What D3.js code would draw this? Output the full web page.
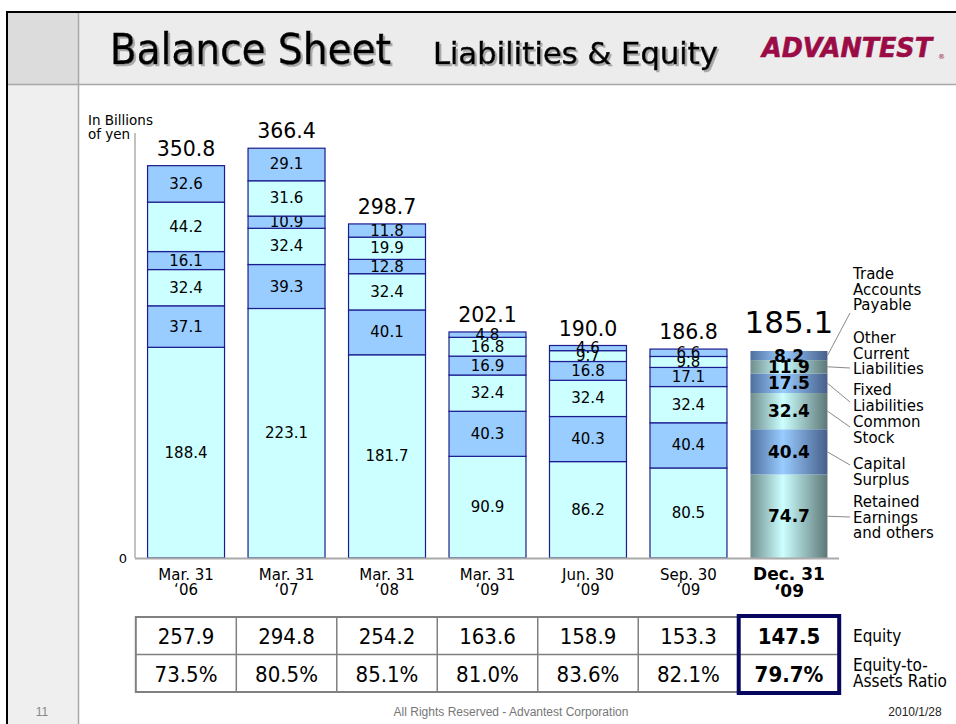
<!DOCTYPE html>
<html>
<head>
<meta charset="utf-8">
<script src="https://cdn.jsdelivr.net/npm/d3@7"></script>
<style>
  html, body { margin: 0; padding: 0; background: #ffffff; }
  svg { display: block; }
</style>
</head>
<body>
<svg id="chart" width="956" height="724"></svg>
<script>
// ---------------- DATA ----------------
const categoriesLine1 = ["Mar. 31", "Mar. 31", "Mar. 31", "Mar. 31", "Jun. 30", "Sep. 30", "Dec. 31"];
const categoriesLine2 = ["\u201806", "\u201807", "\u201808", "\u201809", "\u201809", "\u201809", "\u201809"];
const seriesKeys = ["retained", "capital", "common", "fixed", "otherCurrent", "tradePayable"];
const retainedEarnings = [188.4, 223.1, 181.7, 90.9, 86.2, 80.5, 74.7];
const capitalSurplus   = [37.1, 39.3, 40.1, 40.3, 40.3, 40.4, 40.4];
const commonStock      = [32.4, 32.4, 32.4, 32.4, 32.4, 32.4, 32.4];
const fixedLiabilities = [16.1, 10.9, 12.8, 16.9, 16.8, 17.1, 17.5];
const otherCurrentLiab = [44.2, 31.6, 19.9, 16.8, 9.7, 9.8, 11.9];
const tradePayable     = [32.6, 29.1, 11.8, 4.8, 4.6, 6.6, 8.2];
const totals           = [350.8, 366.4, 298.7, 202.1, 190.0, 186.8, 185.1];
const equityValues     = ["257.9", "294.8", "254.2", "163.6", "158.9", "153.3", "147.5"];
const equityRatios     = ["73.5%", "80.5%", "85.1%", "81.0%", "83.6%", "82.1%", "79.7%"];
const legendLabels = [
  ["Trade", "Accounts", "Payable"],
  ["Other", "Current", "Liabilities"],
  ["Fixed", "Liabilities"],
  ["Common", "Stock"],
  ["Capital", "Surplus"],
  ["Retained", "Earnings", "and others"]
];
const tableRowLabels = [["Equity"], ["Equity-to-", "Assets Ratio"]];
const yTicks = [0];

// ---------------- BUILD ----------------
const rows = categoriesLine1.map((c, i) => ({
  id: i,
  retained: retainedEarnings[i],
  capital: capitalSurplus[i],
  common: commonStock[i],
  fixed: fixedLiabilities[i],
  otherCurrent: otherCurrentLiab[i],
  tradePayable: tradePayable[i]
}));
const lastIdx = rows.length - 1;

const svg = d3.select("#chart");
const FONT = "'DejaVu Sans', Verdana, sans-serif";
const COND = "'DejaVu Sans Condensed', 'DejaVu Sans', sans-serif";
const defs = svg.append("defs");

// ---------- slide frame ----------
svg.append("rect").attr("x", 0).attr("y", 0).attr("width", 956).attr("height", 724).attr("fill", "#ffffff");
svg.append("rect").attr("x", 8).attr("y", 13).attr("width", 948).attr("height", 71).attr("fill", "#ececec");
svg.append("rect").attr("x", 8).attr("y", 84).attr("width", 70).attr("height", 640).attr("fill", "#efefef");
svg.append("rect").attr("x", 8).attr("y", 13).attr("width", 70).attr("height", 71).attr("fill", "#dcdcdc");
svg.append("line").attr("x1", 78.5).attr("x2", 78.5).attr("y1", 13).attr("y2", 724).attr("stroke", "#a8a8a8").attr("stroke-width", 1.5);
svg.append("line").attr("x1", 8).attr("x2", 956).attr("y1", 84.5).attr("y2", 84.5).attr("stroke", "#a8a8a8").attr("stroke-width", 1.5);
svg.append("line").attr("x1", 7).attr("x2", 956).attr("y1", 12).attr("y2", 12).attr("stroke", "#000").attr("stroke-width", 2);
svg.append("line").attr("x1", 7).attr("x2", 7).attr("y1", 11).attr("y2", 724).attr("stroke", "#000").attr("stroke-width", 2);

// ---------- title ----------
const shadow = defs.append("filter").attr("id", "tshadow").attr("x", "-5%").attr("y", "-20%").attr("width", "115%").attr("height", "150%");
shadow.append("feDropShadow").attr("dx", 2).attr("dy", 2).attr("stdDeviation", 0.6)
  .attr("flood-color", "#a0a0a0").attr("flood-opacity", 0.9);
function titleText(x, y, txt, size, len) {
  svg.append("text").attr("x", x).attr("y", y).text(txt)
    .attr("font-family", COND).attr("font-size", size).attr("fill", "#000")
    .attr("stroke", "#000").attr("stroke-width", 0.5)
    .attr("textLength", len).attr("lengthAdjust", "spacingAndGlyphs")
    .attr("filter", "url(#tshadow)");
}
titleText(110, 64, "Balance Sheet", 42, 281);
titleText(433, 64, "Liabilities & Equity", 31, 285);
svg.append("text").attr("x", 762).attr("y", 57).text("ADVANTEST")
  .attr("font-family", FONT).attr("font-weight", "bold").attr("font-style", "italic")
  .attr("font-size", 27).attr("fill", "#9b0c46").attr("stroke", "#9b0c46").attr("stroke-width", 0.6)
  .attr("textLength", 170).attr("lengthAdjust", "spacingAndGlyphs");
svg.append("text").attr("x", 938).attr("y", 59).text("\u00AE")
  .attr("font-family", FONT).attr("font-size", 7).attr("fill", "#9b0c46");

// ---------- scales ----------
const x = d3.scaleBand().domain(rows.map(d => d.id)).range([135, 840])
  .paddingInner(0.234).paddingOuter(0.125);
const y = d3.scaleLinear().domain([0, 380]).range([558, 133]);

const stack = d3.stack().keys(seriesKeys);
const stacked = stack(rows);
const fills = ["#ccffff", "#99ccff", "#ccffff", "#99ccff", "#ccffff", "#99ccff"];

// gradients for the highlighted (last) bar
function grad(id, edgeL, mid, edgeR) {
  const g = defs.append("linearGradient").attr("id", id).attr("x1", "0%").attr("x2", "100%").attr("y1", "0%").attr("y2", "0%");
  g.append("stop").attr("offset", "0%").attr("stop-color", edgeL);
  g.append("stop").attr("offset", "42%").attr("stop-color", mid);
  g.append("stop").attr("offset", "100%").attr("stop-color", edgeR);
}
grad("gCyan", "#708d8d", "#ccffff", "#5e7777");
grad("gBlue", "#4e6f9f", "#99ccff", "#465f8a");

// ---------- axes ----------
svg.append("line").attr("x1", 135).attr("x2", 135).attr("y1", y(380)).attr("y2", y(0))
  .attr("stroke", "#999").attr("stroke-width", 1.2);

const yAxis = d3.axisLeft(y).tickValues(yTicks).tickSize(0).tickPadding(6);
const gy = svg.append("g").attr("transform", "translate(133,0)").call(yAxis);
gy.select(".domain").remove();
gy.selectAll("text").attr("font-family", FONT).attr("font-size", 13).attr("fill", "#000");

svg.append("text").attr("x", 88).attr("y", 125).text("In Billions")
  .attr("font-family", FONT).attr("font-size", 13.5).attr("fill", "#000");
svg.append("text").attr("x", 88).attr("y", 139).text("of yen")
  .attr("font-family", FONT).attr("font-size", 13.5).attr("fill", "#000");

// ---------- bars ----------
const layers = svg.append("g").selectAll("g").data(stacked).join("g");
layers.each(function(layer, li) {
  const g = d3.select(this);
  g.selectAll("rect").data(layer).join("rect")
    .attr("x", d => x(d.data.id))
    .attr("width", x.bandwidth())
    .attr("y", d => y(d[1]))
    .attr("height", d => y(d[0]) - y(d[1]))
    .attr("fill", d => d.data.id === lastIdx ? (li % 2 === 0 ? "url(#gCyan)" : "url(#gBlue)") : fills[li])
    .attr("stroke", d => d.data.id === lastIdx ? "none" : "#1c1c8e")
    .attr("stroke-width", 1.2);
});

// baseline
svg.append("line").attr("x1", 135).attr("x2", 839).attr("y1", y(0) + 0.5).attr("y2", y(0) + 0.5)
  .attr("stroke", "#aaaaaa").attr("stroke-width", 2);

// segment labels
layers.each(function(layer) {
  d3.select(this).selectAll("text").data(layer).join("text")
    .attr("x", d => x(d.data.id) + x.bandwidth() / 2)
    .attr("y", d => y((d[0] + d[1]) / 2))
    .attr("text-anchor", "middle")
    .attr("dominant-baseline", "central")
    .attr("font-family", FONT)
    .attr("font-size", d => d.data.id === lastIdx ? 17 : 15)
    .attr("font-weight", d => d.data.id === lastIdx ? "bold" : "normal")
    .attr("fill", "#000")
    .text(d => (d[1] - d[0]).toFixed(1));
});

// totals
svg.append("g").selectAll("text").data(rows).join("text")
  .attr("x", d => x(d.id) + x.bandwidth() / 2)
  .attr("y", d => y(totals[d.id]) - (d.id === lastIdx ? 18 : 10))
  .attr("text-anchor", "middle")
  .attr("font-family", FONT)
  .attr("font-size", d => d.id === lastIdx ? 31 : 20.5)
  .attr("fill", "#000")
  .text(d => totals[d.id].toFixed(1));

// x labels
const xl = svg.append("g").selectAll("g").data(rows).join("g");
xl.append("text")
  .attr("x", d => x(d.id) + x.bandwidth() / 2).attr("y", 580)
  .attr("text-anchor", "middle").attr("font-family", FONT)
  .attr("font-size", d => d.id === lastIdx ? 17 : 15)
  .attr("font-weight", d => d.id === lastIdx ? "bold" : "normal")
  .text(d => categoriesLine1[d.id]);
xl.append("text")
  .attr("x", d => x(d.id) + x.bandwidth() / 2).attr("y", d => d.id === lastIdx ? 597 : 595)
  .attr("text-anchor", "middle").attr("font-family", FONT)
  .attr("font-size", d => d.id === lastIdx ? 17 : 15)
  .attr("font-weight", d => d.id === lastIdx ? "bold" : "normal")
  .text(d => categoriesLine2[d.id]);

// ---------- legend with leader lines ----------
const legendTop = [279, 343, 395, 427, 469, 507];
const leaderEnd = [313, 368, 402, 427, 465, 517];
const lastStack = stacked.map(s => s[lastIdx]).reverse(); // top to bottom
const barRight = x(lastIdx) + x.bandwidth();
legendLabels.forEach((lines, i) => {
  const seg = lastStack[i];
  svg.append("line")
    .attr("x1", barRight).attr("y1", y((seg[0] + seg[1]) / 2))
    .attr("x2", 850).attr("y2", leaderEnd[i])
    .attr("stroke", "#8a8a8a").attr("stroke-width", 1);
  lines.forEach((t, j) => {
    svg.append("text").attr("x", 853).attr("y", legendTop[i] + j * 15.5)
      .attr("font-family", FONT).attr("font-size", 15).attr("fill", "#000").text(t);
  });
});

// ---------- table ----------
const tableTop = 617, rowH = 37.5;
const colLeft = d => x(d) - x.step() * x.paddingInner() / 2;
const colW = x.step();
const tableRight = colLeft(lastIdx) + colW;
const tg = svg.append("g");
tg.append("rect").attr("x", colLeft(0)).attr("y", tableTop)
  .attr("width", tableRight - colLeft(0)).attr("height", rowH * 2)
  .attr("fill", "#fff").attr("stroke", "#808080").attr("stroke-width", 2);
tg.append("line").attr("x1", colLeft(0)).attr("x2", tableRight)
  .attr("y1", tableTop + rowH).attr("y2", tableTop + rowH)
  .attr("stroke", "#808080").attr("stroke-width", 1.5);
tg.selectAll("line.col").data(rows.slice(1)).join("line").attr("class", "col")
  .attr("x1", d => colLeft(d.id)).attr("x2", d => colLeft(d.id))
  .attr("y1", tableTop).attr("y2", tableTop + rowH * 2)
  .attr("stroke", "#808080").attr("stroke-width", 1.5);
[equityValues, equityRatios].forEach((arr, r) => {
  tg.selectAll("text.r" + r).data(rows).join("text").attr("class", "r" + r)
    .attr("x", d => x(d.id) + x.bandwidth() / 2)
    .attr("y", tableTop + rowH * r + rowH / 2 + 1)
    .attr("text-anchor", "middle").attr("dominant-baseline", "central")
    .attr("font-family", COND).attr("font-size", 22)
    .attr("font-weight", d => d.id === lastIdx ? "bold" : "normal")
    .attr("fill", "#000")
    .text(d => arr[d.id]);
});
tg.append("rect").attr("x", colLeft(lastIdx)).attr("y", tableTop - 1)
  .attr("width", colW).attr("height", rowH * 2 + 2)
  .attr("fill", "none").attr("stroke", "#06065e").attr("stroke-width", 4);
tableRowLabels.forEach((lines, r) => {
  const n = lines.length;
  lines.forEach((t, j) => {
    tg.append("text").attr("x", 853)
      .attr("y", tableTop + rowH * r + rowH / 2 + (j - (n - 1) / 2) * 16)
      .attr("dominant-baseline", "central")
      .attr("font-family", COND).attr("font-size", 17).attr("fill", "#000").text(t);
  });
});

// ---------- footer ----------
svg.append("text").attr("x", 42).attr("y", 716).attr("text-anchor", "middle")
  .attr("font-family", "'Liberation Sans', Arial, sans-serif").attr("font-size", 12).attr("fill", "#888").text("11");
svg.append("text").attr("x", 511).attr("y", 716).attr("text-anchor", "middle")
  .attr("font-family", "'Liberation Sans', Arial, sans-serif").attr("font-size", 12).attr("fill", "#777")
  .text("All Rights Reserved - Advantest Corporation");
svg.append("text").attr("x", 915).attr("y", 716).attr("text-anchor", "middle")
  .attr("font-family", "'Liberation Sans', Arial, sans-serif").attr("font-size", 12).attr("fill", "#222").text("2010/1/28");
</script>
</body>
</html>
